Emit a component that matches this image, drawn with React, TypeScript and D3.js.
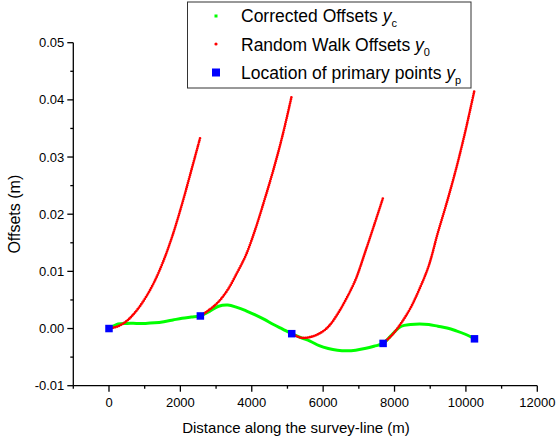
import React from "react";
import * as d3 from "d3";

// primary points y_p
const primaryDist = [0, 2560, 5120, 7680, 10240];
const primaryOff = [0, 0.0022, -0.0009, -0.0026, -0.0018];

// corrected offsets y_c
const correctedDist = [
  0, 256, 512, 768, 1024, 1280, 1536, 1792, 2048, 2304, 2560, 2816, 3072, 3328,
  3584, 3840, 4096, 4352, 4608, 4864, 5120, 5376, 5632, 5888, 6144, 6400, 6656,
  6912, 7168, 7424, 7680, 7936, 8192, 8448, 8704, 8960, 9216, 9472, 9728, 9984, 10240,
];
const correctedOff = [
  0, 0.0008, 0.0009, 0.0009, 0.0009, 0.001, 0.0012, 0.0015, 0.0018, 0.002, 0.0022,
  0.003, 0.0039, 0.0041, 0.0037, 0.0031, 0.0024, 0.0016, 0.0007, -0.0001, -0.0009,
  -0.0016, -0.0022, -0.003, -0.0035, -0.0038, -0.0039, -0.0038, -0.0035, -0.0031,
  -0.0026, -0.001, 0.0004, 0.0007, 0.0008, 0.0007, 0.0004, 0.0001, -0.0004, -0.001, -0.0018,
];

// random walk offsets y_0, one run per primary interval
const walkDist = [
  [0, 256, 512, 768, 1024, 1280, 1536, 1792, 2048, 2304, 2560],
  [2560, 2816, 3072, 3328, 3584, 3840, 4096, 4352, 4608, 4864, 5120],
  [5120, 5376, 5632, 5888, 6144, 6400, 6656, 6912, 7168, 7424, 7680],
  [7680, 7936, 8192, 8448, 8704, 8960, 9216, 9472, 9728, 9984, 10240],
];
const walkOff = [
  [0, 0.0004, 0.0014, 0.0031, 0.0054, 0.0083, 0.012, 0.0165, 0.0218, 0.0276, 0.0335],
  [0.0022, 0.0033, 0.0047, 0.0068, 0.0097, 0.0129, 0.0173, 0.0224, 0.0278, 0.0338, 0.0407],
  [-0.0009, -0.0016, -0.0015, -0.0009, 0.0003, 0.0025, 0.0053, 0.0086, 0.0132, 0.018, 0.0229],
  [-0.0026, -0.0011, 0.001, 0.0036, 0.007, 0.011, 0.0168, 0.0222, 0.028, 0.0345, 0.0417],
];

const xTicks = [0, 2000, 4000, 6000, 8000, 10000, 12000];
const yTicks = [-0.01, 0.0, 0.01, 0.02, 0.03, 0.04, 0.05];

const W = 556;
const H = 444;
const font = "Arial, 'Liberation Sans', sans-serif";

export default function App() {
  const x = d3.scaleLinear().domain([-1000, 12000]).range([73.3, 537.3]);
  const y = d3.scaleLinear().domain([-0.01, 0.05]).range([385.7, 42.7]);

  const line = d3
    .line<[number, number]>()
    .x((d) => x(d[0]))
    .y((d) => y(d[1]))
    .curve(d3.curveCatmullRom.alpha(0.5));

  const corrected = correctedDist.map((d, i) => [d, correctedOff[i]] as [number, number]);
  const walks = walkDist.map((xs, k) => xs.map((d, i) => [d, walkOff[k][i]] as [number, number]));

  const xMinor = d3.range(-1000, 12001, 1000).filter((v) => v % 2000 !== 0);
  const yMinor = d3.range(-0.005, 0.05, 0.01);

  const x0 = x.range()[0];
  const y0 = y.range()[0];
  const fmtY = (v: number) => d3.format(".2f")(v).replace("\u2212", "-");

  return (
    <svg width={W} height={H} style={{ position: "absolute", left: 0, top: 0, background: "#fff" }} fontFamily={font}>
      {/* curves */}
      <path d={line(corrected) || ""} fill="none" stroke="#00ff00" strokeWidth={3} />
      {walks.map((w, k) => (
        <path
          key={k}
          d={line(w) || ""}
          fill="none"
          stroke="#ff0000"
          strokeWidth={2.7}
          strokeLinecap="round"
          strokeDasharray="0 2.1"
        />
      ))}
      {primaryDist.map((d, i) => (
        <rect key={i} x={x(d) - 3.75} y={y(primaryOff[i]) - 3.75} width={7.5} height={7.5} fill="#0000ff" />
      ))}

      {/* axes */}
      <g stroke="#000" strokeWidth={1.3}>
        <line x1={x0} x2={x.range()[1]} y1={y0} y2={y0} />
        <line x1={x0} x2={x0} y1={y0} y2={y.range()[1]} />
        {xTicks.map((t) => (
          <line key={t} x1={x(t)} x2={x(t)} y1={y0} y2={y0 + 6} />
        ))}
        {xMinor.map((t) => (
          <line key={t} x1={x(t)} x2={x(t)} y1={y0} y2={y0 + 3} />
        ))}
        {yTicks.map((t) => (
          <line key={t} x1={x0} x2={x0 - 6} y1={y(t)} y2={y(t)} />
        ))}
        {yMinor.map((t, i) => (
          <line key={i} x1={x0} x2={x0 - 3} y1={y(t)} y2={y(t)} />
        ))}
      </g>
      <g fontSize={13} fill="#000">
        {xTicks.map((t) => (
          <text key={t} x={x(t)} y={y0 + 21} textAnchor="middle">
            {t}
          </text>
        ))}
        {yTicks.map((t) => (
          <text key={t} x={x0 - 9} y={y(t) + 4.5} textAnchor="end">
            {fmtY(t)}
          </text>
        ))}
      </g>
      <text x={296} y={433} textAnchor="middle" fontSize={15}>
        Distance along the survey-line (m)
      </text>
      <text transform={`translate(20,${(y0 + y.range()[1]) / 2}) rotate(-90)`} textAnchor="middle" fontSize={16}>
        Offsets (m)
      </text>

      {/* legend */}
      <rect x={187.5} y={2} width={283.5} height={86} fill="#fff" stroke="#333" strokeWidth={1} />
      <rect x={214.5} y={14.5} width={3} height={3} fill="#00ff00" />
      <circle cx={216} cy={44} r={1.6} fill="#ff0000" />
      <rect x={212} y={68.5} width={8} height={8} fill="#0000ff" />
      <g fontSize={17.5} fill="#000">
        <text x={241} y={22}>
          Corrected Offsets <tspan fontStyle="italic">y</tspan>
          <tspan fontSize={11} dy={5}>c</tspan>
        </text>
        <text x={241} y={50.5}>
          Random Walk Offsets <tspan fontStyle="italic">y</tspan>
          <tspan fontSize={11} dy={5}>0</tspan>
        </text>
        <text x={241} y={79}>
          Location of primary points <tspan fontStyle="italic">y</tspan>
          <tspan fontSize={11} dy={5}>p</tspan>
        </text>
      </g>
    </svg>
  );
}
